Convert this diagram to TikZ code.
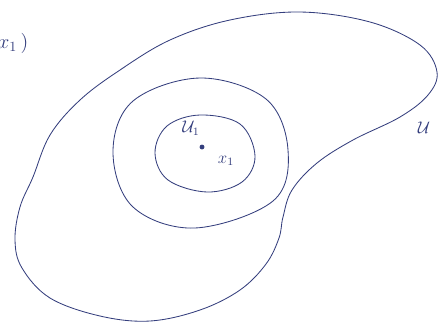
\documentclass[tikz,border=0pt]{standalone}
\usepackage{amsmath,amssymb}
\usepackage{xcolor}
\usepackage{tikz}
\usetikzlibrary{positioning,calc}
\definecolor{inkcolor}{RGB}{52,62,125}

\begin{document}
\begin{tikzpicture}[
  x=0.025cm,y=-0.025cm,
  every node/.style={font=\large,text=inkcolor},
  curve/.style={draw=inkcolor,line width=0.6pt},
  lbl/.style={inner sep=1pt}]
\useasboundingbox (0,0) rectangle (439,325);
%--- Outer set ---
\draw[curve] plot[smooth cycle,tension=0.6] coordinates {
  (33,177) (50,135) (80,100) (120,70) (170,40) (230,20) (300,12)
  (370,22) (420,45) (437,72) (428,95) (400,117) (353,140) (317,163)
  (292,190) (283,217) (279,238) (266,264) (240,290) (200,310)
  (150,321) (100,316) (50,298) (22,268) (15,240) (20,207)};
%--- Middle and inner sets ---
\draw[curve] plot[smooth cycle,tension=0.6] coordinates {
  (113,152) (133,101) (200,78) (266,99) (288,150) (273,201)
  (195,228) (133,207)};
\draw[curve] plot[smooth cycle,tension=0.6] coordinates {
  (155,153) (167,126) (200,115) (240,124) (255,156) (242,182)
  (207,192) (168,180)};
%--- Point and labels ---
\node[circle,fill=inkcolor,inner sep=0pt,minimum size=3.5pt] (pt) at (202,147) {};
\node[lbl] (U1) at (191,128) {$\mathcal{U}_1$};
\node[lbl] (x1) at (226,161) {$x_1$};
\node[lbl] (U)  at (424,128) {$\mathcal{U}$};
\node[lbl,anchor=east,font=\Large] (xl) at (30,43) {$x_{1}\,)$};
\end{tikzpicture}
\end{document}
